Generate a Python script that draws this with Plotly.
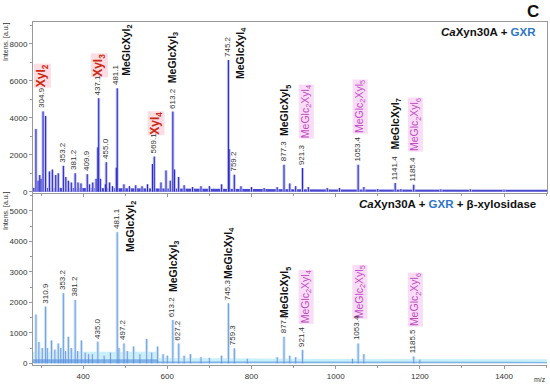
import plotly.graph_objects as go

# ---------------- data ----------------
# Top panel: CaXyn30A + GXR
top_mz = [288.0, 293.0, 297.0, 300.0, 304.9, 310.9, 320.0, 327.0, 335.0, 341.0, 353.2, 359.0,
          365.0, 372.0, 381.2, 388.0, 395.0, 409.9, 415.0, 423.0, 431.0, 435.0, 437.1, 441.0,
          453.0, 455.0, 463.0, 470.0, 479.0, 481.1, 497.0, 510.0, 525.0, 540.0, 553.0, 565.0,
          569.1, 585.0, 597.0, 607.0, 613.2, 617.0, 627.0, 640.0, 660.0, 680.0, 700.0, 729.0,
          745.2, 747.0, 759.2, 775.0, 800.0, 830.0, 861.0, 877.3, 891.0, 905.0, 921.3, 935.0,
          980.0, 1009.0, 1053.4, 1067.0, 1100.0, 1141.4, 1155.0, 1185.4, 1250.0, 1320.0, 1400.0]
top_int = [3400, 600, 900, 700, 4350, 4100, 1100, 1200, 900, 1000, 1400, 800,
           600, 500, 1000, 500, 450, 950, 400, 500, 700, 2400, 5060, 700,
           400, 1600, 500, 300, 1300, 5600, 400, 300, 350, 300, 400, 1500,
           1900, 500, 1150, 600, 4340, 1200, 800, 350, 250, 300, 300, 400,
           7130, 2300, 920, 300, 250, 200, 250, 1460, 450, 300, 1280, 250,
           200, 200, 1460, 250, 150, 470, 150, 380, 120, 120, 100]
top_noise_mz = [281, 400, 500, 700, 1000, 1502]
top_noise_int = [220, 200, 170, 140, 120, 110]

# Bottom panel: CaXyn30A + GXR + beta-xylosidase
bot_mz = [288.0, 295.0, 303.0, 310.9, 315.0, 325.0, 333.0, 341.0, 347.0, 353.2, 358.0, 365.0,
          372.0, 381.2, 387.0, 396.0, 405.0, 413.0, 422.0, 435.0, 450.0, 465.0, 481.1, 485.0,
          497.2, 505.0, 520.0, 535.0, 551.0, 563.0, 577.0, 590.0, 600.0, 613.2, 627.2, 640.0,
          655.0, 680.0, 700.0, 729.0, 745.3, 759.3, 790.0, 861.0, 877.3, 891.0, 905.0, 921.4,
          1040.0, 1053.4, 1067.0, 1185.5, 1200.0]
bot_int = [1600, 700, 500, 1860, 500, 750, 450, 650, 500, 2300, 400, 870,
           500, 2080, 400, 750, 350, 300, 300, 710, 250, 350, 4300, 500,
           650, 400, 550, 300, 800, 350, 550, 300, 250, 1420, 650, 250,
           300, 200, 180, 250, 1970, 490, 150, 200, 870, 250, 200, 440,
           150, 650, 300, 220, 120]
bot_noise_mz = [281, 400, 575, 580, 800, 1000, 1502]
bot_noise_int = [380, 380, 380, 170, 150, 140, 130]

top_labels_mz = [304.9, 353.2, 381.2, 409.9, 437.1, 455.0, 481.1, 569.1, 613.2, 745.2, 759.2,
                 877.3, 921.3, 1053.4, 1141.4, 1185.4]
bot_labels_mz = [310.9, 353.2, 381.2, 435.0, 481.1, 497.2, 613.2, 627.2, 745.3, 759.3,
                 877.3, 921.4, 1053.4, 1185.5]

# compound labels: (text, mz position, intensity position, style)
top_compounds = [
    ("Xyl<sub>2</sub>", 303, 6270, "red"),
    ("Xyl<sub>3</sub>", 438, 6820, "red"),
    ("MeGlcXyl<sub>2</sub>", 504, 7680, "black"),
    ("Xyl<sub>4</sub>", 573, 3730, "red"),
    ("MeGlcXyl<sub>3</sub>", 614, 7240, "black"),
    ("MeGlcXyl<sub>4</sub>", 775, 7510, "black"),
    ("MeGlcXyl<sub>5</sub>", 880, 4380, "black"),
    ("MeGlc<sub>2</sub>Xyl<sub>4</sub>", 930, 4320, "magenta"),
    ("MeGlc<sub>2</sub>Xyl<sub>5</sub>", 1058, 4590, "magenta"),
    ("MeGlcXyl<sub>7</sub>", 1143, 3680, "black"),
    ("MeGlc<sub>2</sub>Xyl<sub>6</sub>", 1189, 3620, "magenta"),
]
bot_compounds = [
    ("MeGlcXyl<sub>2</sub>", 514, 4470, "black"),
    ("MeGlcXyl<sub>3</sub>", 616, 3160, "black"),
    ("MeGlcXyl<sub>4</sub>", 747, 3620, "black"),
    ("MeGlcXyl<sub>5</sub>", 880, 2310, "black"),
    ("MeGlc<sub>2</sub>Xyl<sub>4</sub>", 930, 2170, "magenta"),
    ("MeGlc<sub>2</sub>Xyl<sub>5</sub>", 1058, 2330, "magenta"),
    ("MeGlc<sub>2</sub>Xyl<sub>6</sub>", 1189, 2080, "magenta"),
]

x_ticks = [400, 600, 800, 1000, 1200, 1400]
top_y_ticks = [0, 2000, 4000, 6000, 8000]
bot_y_ticks = [0, 1000, 2000, 3000, 4000, 5000]

FONT = "Liberation Sans, Arial, sans-serif"

# layout geometry (pixels)
W, H = 550, 385
ML, MR, MT, MB = 33, 3, 22, 20
PW, PH = W - ML - MR, H - MT - MB


def px(xpix):
    return (xpix - ML) / PW


def py(ypix):
    return (H - MB - ypix) / PH


def sticks(mz, inten):
    xs, ys = [], []
    for m, h in zip(mz, inten):
        xs += [m, m, None]
        ys += [0, h, None]
    return xs, ys


def height_at(mz_list, int_list, m):
    return int_list[mz_list.index(m)]


fig = go.Figure()

# top panel
fig.add_trace(go.Scatter(x=top_noise_mz, y=top_noise_int, mode="lines", fill="tozeroy",
                         line=dict(color="#3030c8", width=0), fillcolor="rgba(40,40,200,0.85)",
                         xaxis="x", yaxis="y", hoverinfo="skip"))
tx, ty = sticks(top_mz, top_int)
fig.add_trace(go.Scatter(x=tx, y=ty, mode="lines", line=dict(color="#c0c0f0", width=3),
                         xaxis="x", yaxis="y", hoverinfo="skip"))
fig.add_trace(go.Scatter(x=tx, y=ty, mode="lines", line=dict(color="#2323c8", width=1),
                         xaxis="x", yaxis="y", hoverinfo="skip"))

# bottom panel
fig.add_trace(go.Scatter(x=bot_noise_mz, y=bot_noise_int, mode="lines", fill="tozeroy",
                         line=dict(color="#c8f0f8", width=0), fillcolor="#c8f0f8",
                         xaxis="x2", yaxis="y2", hoverinfo="skip"))
bx, by = sticks(bot_mz, bot_int)
fig.add_trace(go.Scatter(x=bx, y=by, mode="lines", line=dict(color="#cfe0f6", width=3),
                         xaxis="x2", yaxis="y2", hoverinfo="skip"))
fig.add_trace(go.Scatter(x=bx, y=by, mode="lines", line=dict(color="#6aa2e2", width=1),
                         xaxis="x2", yaxis="y2", hoverinfo="skip"))
fig.add_trace(go.Scatter(x=bot_noise_mz, y=[v * 0.35 for v in bot_noise_int], mode="lines",
                         fill="tozeroy", line=dict(color="#5f9be0", width=0),
                         fillcolor="rgba(80,140,220,0.6)",
                         xaxis="x2", yaxis="y2", hoverinfo="skip"))

annotations = []

styles = {
    "red": dict(color="#cc2a10", bg="#fcdde3", size=12),
    "black": dict(color="#111111", bg="rgba(0,0,0,0)", size=10.5),
    "magenta": dict(color="#c04cc4", bg="#f9dcf5", size=10.5),
}
for comps, xr, yr in [(top_compounds, "x", "y"), (bot_compounds, "x2", "y2")]:
    for text, m, yv, st in comps:
        s = styles[st]
        txt = text if st == "magenta" else f"<b>{text}</b>"
        annotations.append(dict(x=m, y=yv, xref=xr, yref=yr, text=txt, textangle=-90,
                                showarrow=False, xanchor="center", yanchor="middle",
                                bgcolor=s["bg"], borderpad=0,
                                font=dict(size=s["size"], color=s["color"], family=FONT)))

# value labels (drawn above the compound label boxes)
for m in top_labels_mz:
    annotations.append(dict(x=m, y=height_at(top_mz, top_int, m), xref="x", yref="y",
                            text=f"{m:.1f}", textangle=-90, showarrow=False,
                            xanchor="center", yanchor="bottom", yshift=1, xshift=-1,
                            font=dict(size=8, color="#333333", family=FONT)))
for m in bot_labels_mz:
    annotations.append(dict(x=m, y=height_at(bot_mz, bot_int, m), xref="x2", yref="y2",
                            text=f"{m:.1f}", textangle=-90, showarrow=False,
                            xanchor="center", yanchor="bottom", yshift=1, xshift=-1,
                            font=dict(size=8, color="#333333", family=FONT)))

# titles
annotations.append(dict(x=px(538), y=py(32), xref="paper", yref="paper",
                        text="<b><i>Ca</i>Xyn30A + <span style='color:#2e75c8'>GXR</span></b>",
                        showarrow=False, xanchor="right", yanchor="middle",
                        font=dict(size=11.5, color="#111111", family=FONT)))
annotations.append(dict(x=px(538), y=py(204), xref="paper", yref="paper",
                        text="<b><i>Ca</i>Xyn30A + <span style='color:#2e75c8'>GXR</span> + β-xylosidase</b>",
                        showarrow=False, xanchor="right", yanchor="middle",
                        font=dict(size=11.5, color="#111111", family=FONT)))
annotations.append(dict(x=px(541), y=py(12), xref="paper", yref="paper",
                        text="<b>C</b>", showarrow=False, xanchor="right", yanchor="middle",
                        font=dict(size=17, color="#111111", family=FONT)))
for yc in [42, 211]:
    annotations.append(dict(x=px(6), y=py(yc), xref="paper", yref="paper",
                            text="Intens. [a.u.]", textangle=-90, showarrow=False,
                            xanchor="center", yanchor="middle",
                            font=dict(size=7, color="#333333", family=FONT)))
annotations.append(dict(x=px(540), y=py(379), xref="paper", yref="paper",
                        text="m/z", showarrow=False, xanchor="center", yanchor="middle",
                        font=dict(size=7, color="#333333", family=FONT)))

axis_common = dict(showgrid=False, zeroline=False, linecolor="#999999", linewidth=1,
                   tickfont=dict(size=8, color="#333333", family=FONT),
                   ticks="outside", ticklen=3, tickcolor="#999999")

fig.update_layout(
    width=W, height=H,
    margin=dict(l=ML, r=MR, t=MT, b=MB),
    paper_bgcolor="white", plot_bgcolor="white",
    showlegend=False,
    annotations=annotations,
    xaxis=dict(range=[281, 1502], domain=[0, 1], anchor="y", showticklabels=False,
               tickvals=x_ticks, showline=True, mirror=True,
               minor=dict(dtick=100, ticklen=2, tickcolor="#999999", ticks="outside"),
               **axis_common),
    yaxis=dict(range=[-60, 9190], domain=[0.502, 1], anchor="x", tickvals=top_y_ticks,
               showline=True, mirror=True,
               minor=dict(dtick=1000, ticklen=2, tickcolor="#999999", ticks="outside"),
               **axis_common),
    xaxis2=dict(range=[281, 1502], domain=[0, 1], anchor="y2", tickvals=x_ticks,
                showline=True, mirror=False,
                minor=dict(dtick=100, ticklen=2, tickcolor="#999999", ticks="outside"),
                **axis_common),
    yaxis2=dict(range=[-56, 5558], domain=[0, 0.499], anchor="x2", tickvals=bot_y_ticks,
                showline=True, mirror=False,
                minor=dict(dtick=500, ticklen=2, tickcolor="#999999", ticks="outside"),
                **axis_common),
)

fig.write_html("out.html", config={"displayModeBar": False},
               post_script="document.body.style.margin='0px';")
